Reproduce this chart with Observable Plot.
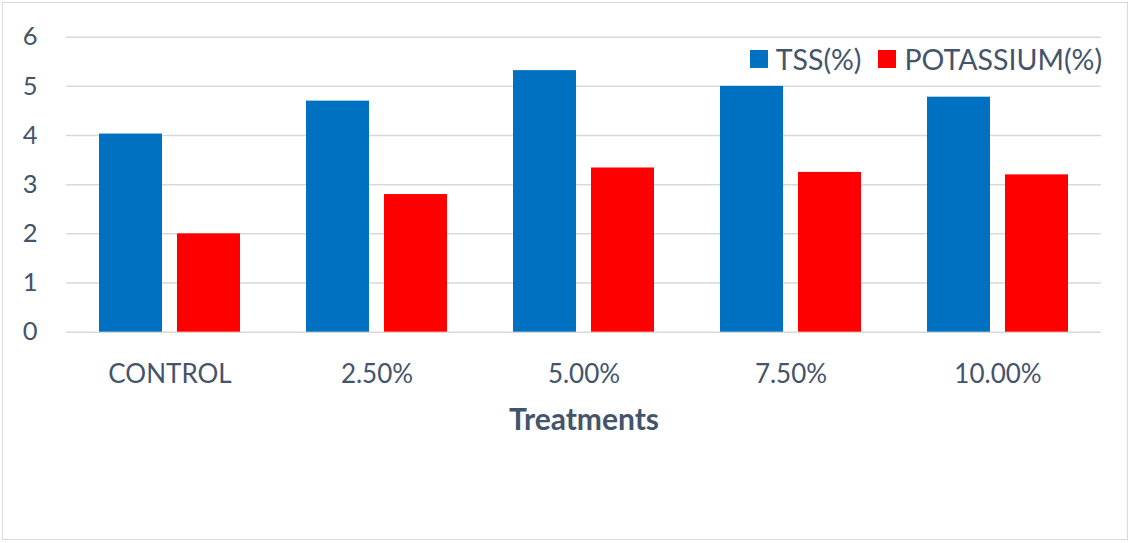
<!DOCTYPE html>
<html>
<head>
<meta charset="utf-8">
<script src="https://cdn.jsdelivr.net/npm/d3@7"></script>
<script src="https://cdn.jsdelivr.net/npm/@observablehq/plot@0.6"></script>
<style>
  html, body { margin: 0; padding: 0; background: #fff; }
  #chart { position: relative; width: 1131px; height: 543px; font-family: Lato, "Noto Sans", sans-serif; color: #44546a; }
  #chart svg { position: absolute; left: 0; top: 0; }
  #frame { position: absolute; left: 2px; top: 2px; width: 1124px; height: 536px; border: 1.5px solid #d9d9d9; pointer-events: none; }
  #legend { position: absolute; right: 29px; top: 42px; display: flex; align-items: center; font-size: 28.5px; white-space: nowrap; }
  #legend .item { display: flex; align-items: center; margin-left: 17px; }
  #legend .sw { width: 18px; height: 18px; margin-right: 8px; }
  #xtitle { position: absolute; left: 66px; width: 1036px; top: 400px; text-align: center; font-size: 30px; font-weight: bold; }
</style>
</head>
<body>
<div id="chart">
  <div id="frame"></div>
</div>
<script>
// Treatments along the bottom and the two measured series
const treatments = ["CONTROL", "2.50%", "5.00%", "7.50%", "10.00%"];
const seriesNames = ["TSS(%)", "POTASSIUM(%)"];
const tss = [4.03, 4.70, 5.32, 5.00, 4.78];
const potassium = [2.00, 2.80, 3.34, 3.25, 3.20];
const yTicks = [0, 1, 2, 3, 4, 5, 6];
const seriesColors = ["#0070c0", "#ff0000"];
const textColor = "#44546a";
const gridColor = "#d9d9d9";

const rows = treatments.flatMap((t, i) => [
  {treatment: t, series: seriesNames[0], value: tss[i]},
  {treatment: t, series: seriesNames[1], value: potassium[i]}
]);

const chart = Plot.plot({
  width: 1131,
  height: 543,
  marginLeft: 65,
  marginRight: 29,
  marginTop: 36.7,
  marginBottom: 211.3,
  style: {fontFamily: "Lato, 'Noto Sans', sans-serif", color: textColor, background: "transparent"},
  fx: {domain: treatments, padding: 0},
  x: {domain: seriesNames, paddingInner: 0.19, paddingOuter: 0.406, axis: null},
  y: {domain: [0, 6]},
  color: {domain: seriesNames, range: seriesColors},
  marks: [
    Plot.gridY(yTicks, {stroke: gridColor, strokeOpacity: 1, strokeWidth: 1.5}),
    Plot.barY(rows, {fx: "treatment", x: "series", y: "value", fill: "series"}),
    Plot.axisY(yTicks, {tickSize: 0, tickPadding: 29, fontSize: 25.5, label: null, fill: textColor}),
    Plot.axisFx({anchor: "bottom", tickSize: 0, tickPadding: 32, fontSize: 26, label: null, fill: textColor})
  ]
});

const root = document.getElementById("chart");
root.insertBefore(chart, root.firstChild);

// Legend in the upper right of the plot area
const legend = document.createElement("div");
legend.id = "legend";
seriesNames.forEach((name, i) => {
  const item = document.createElement("div");
  item.className = "item";
  const sw = document.createElement("span");
  sw.className = "sw";
  sw.style.background = seriesColors[i];
  const label = document.createElement("span");
  label.textContent = name;
  item.append(sw, label);
  legend.append(item);
});
root.append(legend);

// Horizontal axis title
const xtitle = document.createElement("div");
xtitle.id = "xtitle";
xtitle.textContent = "Treatments";
root.append(xtitle);
</script>
</body>
</html>
